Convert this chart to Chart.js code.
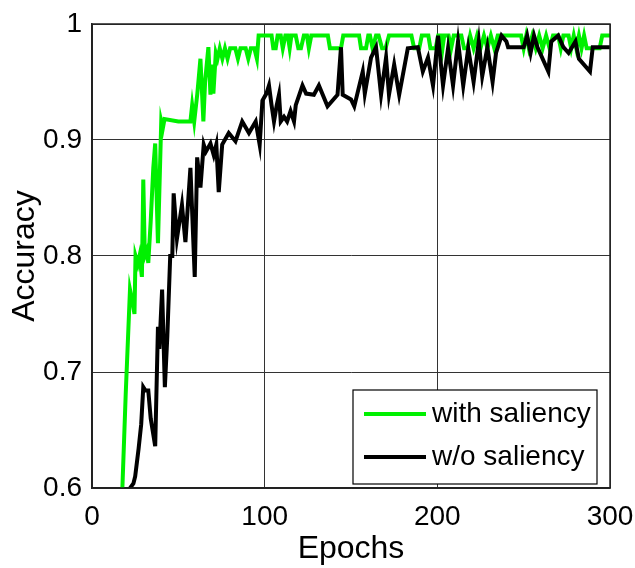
<!DOCTYPE html>
<html>
<head>
<meta charset="utf-8">
<script src="https://cdn.jsdelivr.net/npm/chart.js@4.4.1/dist/chart.umd.min.js"></script>
<style>
  html, body { margin: 0; padding: 0; background: #fff; }
  #wrap { width: 635px; height: 568px; }
</style>
</head>
<body>
<div id="wrap"><canvas id="chart" width="635" height="568"></canvas></div>
<script>
// Tick values
const xTicks = [0, 100, 200, 300];
const yTicks = [0.6, 0.7, 0.8, 0.9, 1.0];

// "with saliency" (green)
const greenEpochs = [17.5, 19.5, 22, 23.5, 24.6, 25.2, 26.5, 27.5, 28.9, 29.7, 30.6, 31.8, 32.6, 34, 35.5, 36.6, 38.2, 40.1, 41, 42,
  50, 57, 58, 59.2, 61, 62.8, 64.5, 65.5, 67.4, 68.6, 69.5, 70.3, 71.7, 72.7, 74, 75.5, 77, 78.5, 80, 83, 84.5, 86, 89, 90.5,
  92, 94, 95.5, 96.5, 104, 105, 106.4, 107.5, 109.3, 110.5, 112, 113.4, 114.5, 115.5, 118, 119.5, 121, 122.7, 124.5, 125.6, 127,
  136.6, 137.8, 144.2, 145.5, 154.7, 155.8, 158.7, 160, 161, 162.5, 164.5, 166, 168, 170, 172, 185, 186.6, 189.5, 191, 194.8,
  196, 199, 200.5, 202, 203, 204, 206.5, 208, 209.5, 213.9, 215.5, 217.5, 219, 221, 223, 225, 227, 229, 231, 233, 235, 248.5,
  250, 251.5, 253, 255, 257, 259, 261, 263, 265, 267, 270, 271.5, 273, 276, 277.5, 279, 280.5, 282, 283.5, 285, 286.5, 289.5,
  291, 294, 295.5, 300];
const greenAcc = [0.596, 0.68, 0.771, 0.76, 0.75, 0.80, 0.793, 0.80, 0.782, 0.866, 0.80, 0.805, 0.794, 0.83, 0.876, 0.897, 0.811, 0.916, 0.91, 0.918,
  0.916, 0.916, 0.93, 0.916, 0.94, 0.97, 0.916, 0.95, 0.98, 0.939, 0.965, 0.94, 0.975, 0.97, 0.979, 0.97, 0.979, 0.97, 0.979, 0.979, 0.97, 0.979, 0.979, 0.97,
  0.979, 0.979, 0.97, 0.99, 0.99, 0.979, 0.979, 0.99, 0.99, 0.979, 0.99, 0.99, 0.979, 0.99, 0.99, 0.979, 0.979, 0.99, 0.99, 0.979, 0.99,
  0.99, 0.979, 0.979, 0.99, 0.99, 0.979, 0.979, 0.99, 0.99, 0.979, 0.99, 0.99, 0.979, 0.979, 0.99, 0.99, 0.979, 0.979, 0.99, 0.99,
  0.979, 0.979, 0.99, 0.99, 0.979, 0.99, 0.99, 0.979, 0.99, 0.99, 0.979, 0.979, 0.99, 0.979, 0.99, 0.979, 0.99, 0.979, 0.99, 0.979, 0.99, 0.99,
  0.979, 0.99, 0.979, 0.99, 0.979, 0.99, 0.979, 0.99, 0.979, 0.99, 0.99, 0.979, 0.99, 0.99, 0.979, 0.99, 0.979, 0.99, 0.979, 0.99, 0.979, 0.979,
  0.979, 0.979, 0.99, 0.99];

// "w/o saliency" (black)
const blackEpochs = [21.1, 24, 25, 27, 28.5, 29.7, 31, 32.6, 34, 36.6, 38.2, 39, 40.6, 42.2, 43.6, 45.3, 46.5, 47.3, 49.2, 52.1,
  54.1, 57, 59.5, 60.9, 62.8, 64.7, 66, 68.6, 70.5, 72, 73.4, 75.4, 79.2, 83.1, 87, 90.9, 94.8, 97.1, 98.7, 101, 102.5, 104,
  105.4, 107, 108.3, 109.3, 111.2, 113, 115, 117, 118, 121.9, 124, 128.5, 131.4, 136.4, 142.2, 144.2, 145.2, 150, 151.9, 156.8,
  158, 161.6, 164.5, 167.4, 170.3, 172, 175, 177.9, 182.9, 188.7, 191.6, 194.6, 197.5, 200.4, 203.3, 206.2, 209.1, 212, 215,
  217.9, 221, 224, 226, 229, 232, 234, 237.2, 240, 241, 250, 252, 254, 256, 258, 264.3, 266, 270, 273, 276, 280, 282, 288.4,
  290, 295, 300];
const blackAcc = [0.598, 0.604, 0.61, 0.634, 0.655, 0.687, 0.684, 0.684, 0.66, 0.636, 0.739, 0.72, 0.771, 0.687, 0.73, 0.80, 0.80, 0.854, 0.815, 0.844,
  0.812, 0.876, 0.782, 0.885, 0.859, 0.896, 0.89, 0.897, 0.887, 0.896, 0.855, 0.896, 0.906, 0.899, 0.916, 0.906, 0.916, 0.896, 0.934, 0.94, 0.947, 0.93,
  0.916, 0.93, 0.939, 0.916, 0.92, 0.916, 0.925, 0.916, 0.93, 0.947, 0.94, 0.939, 0.947, 0.929, 0.939, 0.98, 0.939, 0.935, 0.929, 0.959,
  0.94, 0.971, 0.98, 0.939, 0.971, 0.939, 0.965, 0.939, 0.979, 0.98, 0.959, 0.971, 0.947, 0.99, 0.947, 0.979, 0.947, 0.985, 0.947,
  0.979, 0.95, 0.985, 0.955, 0.98, 0.95, 0.975, 0.99, 0.985, 0.98, 0.98, 0.99, 0.975, 0.99, 0.98, 0.959, 0.985, 0.99, 0.98, 0.975, 0.985, 0.97, 0.959,
  0.98, 0.98, 0.98];

const toPoints = (xs, ys) => xs.map((x, i) => ({ x, y: ys[i] }));

const FONT = '"Liberation Sans", Arial, sans-serif';

// frame around the plot area plus the boxed legend in the lower right
const framePlugin = {
  id: 'frame',
  afterDraw(chart) {
    const { ctx, chartArea: a } = chart;
    ctx.save();
    ctx.strokeStyle = '#222';
    ctx.lineWidth = 1.5;
    ctx.strokeRect(a.left, a.top, a.right - a.left, a.bottom - a.top);

    const bx = a.right - 257, by = a.bottom - 98, bw = 244, bh = 94;
    ctx.fillStyle = '#fff';
    ctx.fillRect(bx, by, bw, bh);
    ctx.strokeStyle = '#000';
    ctx.lineWidth = 1.2;
    ctx.strokeRect(bx, by, bw, bh);

    const items = [
      { label: 'with saliency', color: '#00f000', y: by + 24 },
      { label: 'w/o saliency', color: '#000', y: by + 67 }
    ];
    ctx.font = '28px ' + FONT;
    ctx.textBaseline = 'middle';
    items.forEach(it => {
      ctx.strokeStyle = it.color;
      ctx.lineWidth = 4;
      ctx.beginPath();
      ctx.moveTo(bx + 11, it.y);
      ctx.lineTo(bx + 73, it.y);
      ctx.stroke();
      ctx.fillStyle = '#000';
      ctx.fillText(it.label, bx + 79, it.y);
    });
    ctx.restore();
  }
};

new Chart(document.getElementById('chart'), {
  type: 'line',
  data: {
    datasets: [
      {
        label: 'with saliency',
        data: toPoints(greenEpochs, greenAcc),
        borderColor: '#00f000',
        borderWidth: 4,
        pointRadius: 0,
        tension: 0,
        order: 1
      },
      {
        label: 'w/o saliency',
        data: toPoints(blackEpochs, blackAcc),
        borderColor: '#000',
        borderWidth: 4,
        pointRadius: 0,
        tension: 0,
        order: 0
      }
    ]
  },
  options: {
    responsive: false,
    animation: false,
    layout: { padding: { left: 0, top: 24, right: 25, bottom: 0 } },
    plugins: { legend: { display: false }, tooltip: { enabled: false } },
    scales: {
      x: {
        type: 'linear',
        min: 0,
        max: 300,
        afterBuildTicks: s => { s.ticks = xTicks.map(v => ({ value: v })); },
        afterFit: s => { s.height = 80; s.paddingLeft = 0; s.paddingRight = 0; },
        grid: { color: '#333', lineWidth: 1, drawTicks: false },
        border: { color: '#222', width: 1.5 },
        ticks: { color: '#000', padding: 12, font: { family: FONT, size: 28 } },
        title: { display: true, text: 'Epochs', color: '#000', padding: { top: 0, bottom: 0 }, font: { family: FONT, size: 32 } }
      },
      y: {
        min: 0.6,
        max: 1.0,
        afterBuildTicks: s => { s.ticks = yTicks.map(v => ({ value: v })); },
        afterFit: s => { s.width = 92; s.paddingTop = 0; s.paddingBottom = 0; },
        grid: { color: '#333', lineWidth: 1, drawTicks: false },
        border: { color: '#222', width: 1.5 },
        ticks: { color: '#000', padding: 10, font: { family: FONT, size: 28 }, callback: v => String(Math.round(v * 10) / 10) },
        title: { display: true, text: 'Accuracy', color: '#000', padding: { top: 6, bottom: 0 }, font: { family: FONT, size: 32 } }
      }
    }
  },
  plugins: [framePlugin]
});
</script>
</body>
</html>
